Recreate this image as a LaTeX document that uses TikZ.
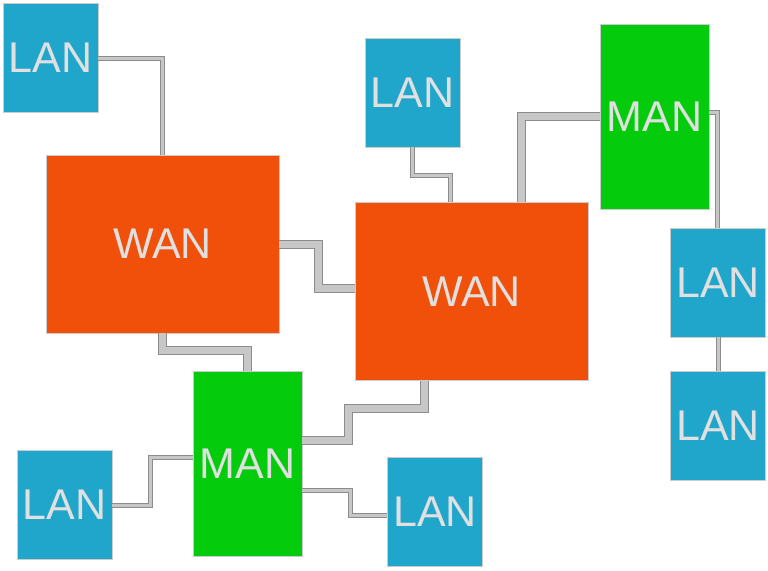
\documentclass[tikz,border=0pt]{standalone}
\usepackage{fontspec}
\setmainfont{Liberation Sans}
\begin{document}
\begin{tikzpicture}[x=1pt,y=-1pt]
        \tikzstyle{net}=[draw=black!20,inner sep=0pt,text=black!12,font=\fontsize{43}{43}\selectfont]
        \tikzstyle{lan}=[net,fill={rgb,255:red,32;green,165;blue,203},minimum width=95pt,minimum height=109pt]
        \tikzstyle{wan}=[net,fill={rgb,255:red,240;green,80;blue,10},minimum width=233pt,minimum height=178pt]
        \tikzstyle{man}=[net,fill={rgb,255:red,4;green,204;blue,12},minimum width=109pt,minimum height=185pt]
        \tikzstyle{thin}=[draw=black!45,double=black!22,double distance=3pt,line width=1pt]
        \tikzstyle{thick}=[draw=black!45,double=black!22,double distance=7pt,line width=1pt]
        \useasboundingbox (0,0) rectangle (768,570);
                % boxes
                \node[wan] (W-1) at (162.5,244) {WAN};
                \node[wan] (W-2) at (471.5,291.5) {WAN};
                \node[man] (M-1) at (654.5,116.5) {MAN};
                \node[man] (M-2) at (247.5,463.5) {MAN};
                \foreach \n/\x/\y in {1/50.5/58, 2/412.5/92.5, 3/718/282.5, 4/718/426, 5/64.5/505, 6/435/511.5}
                        \node[lan] (L-\n) at (\x,\y) {LAN};
                % links
                \draw[thin] (L-1.east) -| (W-1.north);
                \draw[thin] (L-2.south) |- (450.5,175) -- ([xshift=-21pt]W-2.north);
                \draw[thick] ([xshift=50pt]W-2.north) |- (M-1.west);
                \draw[thin] ([yshift=4.5pt]M-1.east) -| ([xshift=-48pt]L-3.north east);
                \draw[thin] (L-3.south) -- (L-4.north);
                \draw[thick] (W-1.east) -| (318,288) -- ([yshift=3.5pt]W-2.west);
                \draw[thick] (W-1.south) |- (247.5,350) -- (M-2.north);
                \draw[thick] ([xshift=-47pt]W-2.south) |- (348,408) |- ([yshift=23pt]M-2.east);
                \draw[thin] ([yshift=6.5pt]M-2.west) -| (150,505) -- (L-5.east);
                \draw[thin] ([yshift=-26.5pt]M-2.east) -| (350,515) -- ([yshift=-3.5pt]L-6.west);
\end{tikzpicture}
\end{document}
